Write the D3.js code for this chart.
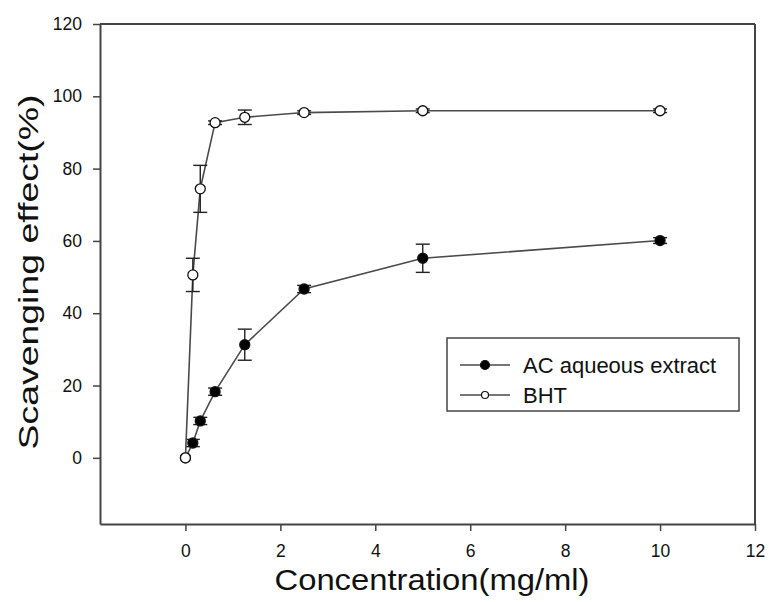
<!DOCTYPE html>
<html>
<head>
<meta charset="utf-8">
<script src="https://cdn.jsdelivr.net/npm/d3@7"></script>
<style>
  body { margin: 0; background: #fff; }
  text { font-family: Arial, 'Liberation Sans', sans-serif; }
</style>
</head>
<body>
<svg id="chart" width="769" height="602"></svg>
<script>
// concentrations (mg/ml)
const conc = [0, 0.156, 0.3125, 0.625, 1.25, 2.5, 5, 10];
// AC aqueous extract
const acMean = [0, 4.1, 10.2, 18.3, 31.3, 46.7, 55.2, 60.1];
const acErr = [0, 1, 1, 1, 4.3, 1, 3.9, 0.8];
// BHT
const bhtMean = [0, 50.6, 74.4, 92.7, 94.2, 95.5, 96, 96];
const bhtErr = [0, 4.6, 6.5, 0.5, 2, 0.5, 0.5, 0.5];

const xTicks = [0, 2, 4, 6, 8, 10, 12];
const yTicks = [0, 20, 40, 60, 80, 100, 120];
const seriesNames = ['AC aqueous extract', 'BHT'];

const svg = d3.select('#chart');

const x = d3.scaleLinear().domain([-1.8, 12]).range([100, 755]);
const y = d3.scaleLinear().domain([-18.3, 120]).range([524, 24]);

// frame (top + right)
const frame = svg.append('g').attr('stroke', '#444').attr('stroke-width', 2);
frame.append('line')
  .attr('x1', x.range()[0]).attr('x2', x.range()[1])
  .attr('y1', y.range()[1]).attr('y2', y.range()[1]);
frame.append('line')
  .attr('x1', x.range()[1]).attr('x2', x.range()[1])
  .attr('y1', y.range()[0]).attr('y2', y.range()[1]);

// axes
const xAxis = svg.append('g')
  .attr('transform', `translate(0, ${y.range()[0]})`)
  .call(d3.axisBottom(x).tickValues(xTicks).tickSize(7).tickSizeOuter(0).tickPadding(14));

const yAxis = svg.append('g')
  .attr('transform', `translate(${x.range()[0]}, 0)`)
  .call(d3.axisLeft(y).tickValues(yTicks).tickSize(7).tickSizeOuter(0).tickPadding(11));

[xAxis, yAxis].forEach((g) => {
  g.select('.domain').attr('stroke', '#444').attr('stroke-width', 2);
  g.selectAll('.tick line').attr('stroke', '#444').attr('stroke-width', 1.5);
  g.selectAll('.tick text')
    .attr('fill', '#111')
    .attr('font-size', 17.5)
    .attr('font-family', 'Arial, Liberation Sans, sans-serif');
});

// axis titles
svg.append('text')
  .attr('x', 432)
  .attr('y', 590)
  .attr('text-anchor', 'middle')
  .attr('font-size', 29)
  .attr('fill', '#111')
  .attr('textLength', 315)
  .attr('lengthAdjust', 'spacingAndGlyphs')
  .text('Concentration(mg/ml)');

svg.append('text')
  .attr('transform', 'translate(38, 272) rotate(-90)')
  .attr('text-anchor', 'middle')
  .attr('font-size', 28)
  .attr('fill', '#111')
  .attr('textLength', 355)
  .attr('lengthAdjust', 'spacingAndGlyphs')
  .text('Scavenging effect(%)');

const line = d3.line()
  .x((d) => x(d.c))
  .y((d) => y(d.m));

const makeData = (means, errs) => conc.map((c, i) => ({ c: c, m: means[i], e: errs[i] }));

const series = [
  { name: seriesNames[0], data: makeData(acMean, acErr), fill: '#000' },
  { name: seriesNames[1], data: makeData(bhtMean, bhtErr), fill: '#fff' }
];

series.forEach((s) => {
  const g = svg.append('g');

  g.append('path')
    .datum(s.data)
    .attr('fill', 'none')
    .attr('stroke', '#4a4a4a')
    .attr('stroke-width', 1.6)
    .attr('d', line);

  // error bars
  const eb = g.selectAll('.err')
    .data(s.data.filter((d) => d.e > 0))
    .enter()
    .append('g')
    .attr('stroke', '#222')
    .attr('stroke-width', 1.4);

  eb.append('line')
    .attr('x1', (d) => x(d.c)).attr('x2', (d) => x(d.c))
    .attr('y1', (d) => y(d.m - d.e)).attr('y2', (d) => y(d.m + d.e));
  eb.append('line')
    .attr('x1', (d) => x(d.c) - 7).attr('x2', (d) => x(d.c) + 7)
    .attr('y1', (d) => y(d.m + d.e)).attr('y2', (d) => y(d.m + d.e));
  eb.append('line')
    .attr('x1', (d) => x(d.c) - 7).attr('x2', (d) => x(d.c) + 7)
    .attr('y1', (d) => y(d.m - d.e)).attr('y2', (d) => y(d.m - d.e));

  g.selectAll('circle')
    .data(s.data)
    .enter()
    .append('circle')
    .attr('cx', (d) => x(d.c))
    .attr('cy', (d) => y(d.m))
    .attr('r', 5)
    .attr('fill', s.fill)
    .attr('stroke', '#111')
    .attr('stroke-width', 1.3);
});

// legend
const legend = svg.append('g').attr('transform', 'translate(447, 338)');
legend.append('rect')
  .attr('width', 292)
  .attr('height', 73)
  .attr('fill', '#fff')
  .attr('stroke', '#444')
  .attr('stroke-width', 1.5);

series.forEach((s, i) => {
  const row = legend.append('g').attr('transform', `translate(0, ${27 + i * 30})`);
  row.append('line')
    .attr('x1', 13).attr('x2', 63)
    .attr('stroke', '#4a4a4a').attr('stroke-width', 1.6);
  row.append('circle')
    .attr('cx', 38)
    .attr('r', i === 0 ? 4.5 : 3.5)
    .attr('fill', s.fill)
    .attr('stroke', '#111')
    .attr('stroke-width', 1.2);
  row.append('text')
    .attr('x', 76)
    .attr('dy', '0.35em')
    .attr('font-size', 22)
    .attr('fill', '#111')
    .text(s.name);
});
</script>
</body>
</html>
